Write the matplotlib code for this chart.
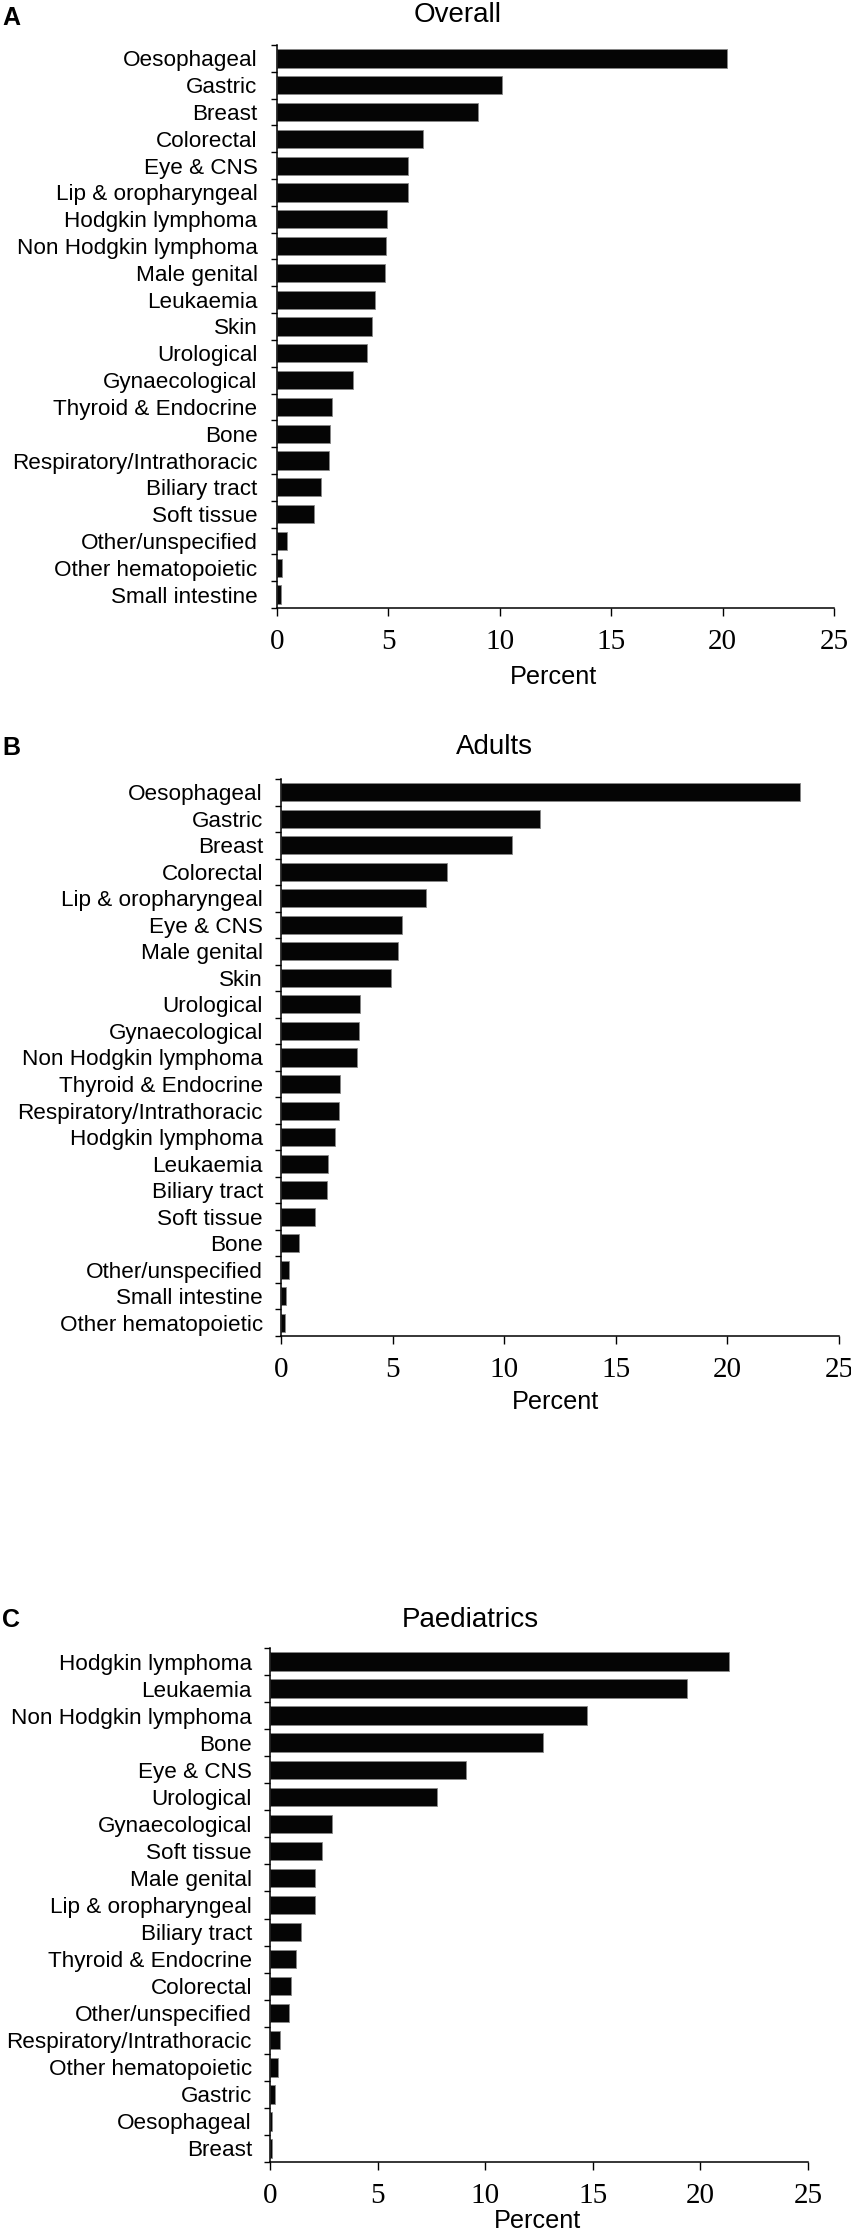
import matplotlib
matplotlib.use("Agg")
import matplotlib.pyplot as plt
import numpy as np

# Panel A - overall
overall_labels = ["Oesophageal", "Gastric", "Breast", "Colorectal", "Eye & CNS",
                  "Lip & oropharyngeal", "Hodgkin lymphoma", "Non Hodgkin lymphoma",
                  "Male genital", "Leukaemia", "Skin", "Urological", "Gynaecological",
                  "Thyroid & Endocrine", "Bone", "Respiratory/Intrathoracic",
                  "Biliary tract", "Soft tissue", "Other/unspecified",
                  "Other hematopoietic", "Small intestine"]
overall_values = [20.2, 10.1, 9.0, 6.55, 5.9, 5.9, 4.92, 4.89, 4.84, 4.38, 4.28,
                  4.06, 3.40, 2.45, 2.37, 2.32, 1.98, 1.66, 0.44, 0.24, 0.20]

# Panel B - adults
adult_labels = ["Oesophageal", "Gastric", "Breast", "Colorectal", "Lip & oropharyngeal",
                "Eye & CNS", "Male genital", "Skin", "Urological", "Gynaecological",
                "Non Hodgkin lymphoma", "Thyroid & Endocrine", "Respiratory/Intrathoracic",
                "Hodgkin lymphoma", "Leukaemia", "Biliary tract", "Soft tissue", "Bone",
                "Other/unspecified", "Small intestine", "Other hematopoietic"]
adult_values = [23.27, 11.62, 10.33, 7.42, 6.49, 5.44, 5.25, 4.93, 3.54, 3.49, 3.39,
                2.64, 2.59, 2.44, 2.12, 2.05, 1.54, 0.81, 0.37, 0.22, 0.20]

# Panel C - paediatrics
paed_labels = ["Hodgkin lymphoma", "Leukaemia", "Non Hodgkin lymphoma", "Bone",
               "Eye & CNS", "Urological", "Gynaecological", "Soft tissue",
               "Male genital", "Lip & oropharyngeal", "Biliary tract",
               "Thyroid & Endocrine", "Colorectal", "Other/unspecified",
               "Respiratory/Intrathoracic", "Other hematopoietic", "Gastric",
               "Oesophageal", "Breast"]
paed_values = [21.32, 19.4, 14.73, 12.70, 9.10, 7.78, 2.89, 2.41, 2.08, 2.08, 1.45,
               1.22, 0.96, 0.86, 0.48, 0.35, 0.25, 0.10, 0.10]

x_ticks = [0, 5, 10, 15, 20, 25]

W, H = 851, 2232
fig = plt.figure(figsize=(W / 100, H / 100), dpi=100)

sans = ["Liberation Sans", "DejaVu Sans"]
serif = ["Liberation Serif", "DejaVu Serif"]


def px_axes(left, top, right, bottom):
    return fig.add_axes([left / W, 1 - bottom / H, (right - left) / W, (bottom - top) / H])


def draw_panel(box, labels, values, letter, title, letter_y, title_x, title_y,
               label_x, label_y, ypad):
    ax = px_axes(*box)
    n = len(labels)
    y = np.arange(n)
    ax.barh(y, values, height=0.68, color="#050505", edgecolor="#888888", linewidth=0.6)
    ax.set_ylim(n - 0.5, -0.5)
    ax.set_xlim(0, 25)
    ax.set_yticks(y)
    ax.set_yticklabels(labels)
    ax.set_yticks(np.arange(n + 1) - 0.5, minor=True)
    ax.tick_params(axis="y", which="major", length=0, pad=ypad,
                   labelfontfamily="Liberation Sans", labelsize=16.2)
    ax.tick_params(axis="y", which="minor", length=4, width=1, direction="out")
    ax.set_xticks(x_ticks)
    ax.set_xticklabels([str(t) for t in x_ticks])
    ax.tick_params(axis="x", length=6, width=1, direction="out", pad=9,
                   labelfontfamily="Liberation Serif", labelsize=21)
    for s in ["top", "right"]:
        ax.spines[s].set_visible(False)
    for s in ["left", "bottom"]:
        ax.spines[s].set_linewidth(1.1)
    fig.text(2 / W, 1 - letter_y / H, letter, family=sans, fontweight="bold",
             fontsize=18, ha="left", va="center")
    fig.text(title_x / W, 1 - title_y / H, title, family=sans, fontsize=20,
             ha="center", va="center")
    fig.text(label_x / W, 1 - label_y / H, "Percent", family=sans, fontsize=18.2,
             ha="center", va="center")
    return ax


draw_panel((277, 45, 834, 608), overall_labels, overall_values, "A", "Overall",
           18, 458, 15, 553, 677, 14)
draw_panel((281, 779, 839, 1336), adult_labels, adult_values, "B", "Adults",
           748, 494, 747, 556, 1402, 13)
draw_panel((270, 1648, 808, 2162), paed_labels, paed_values, "C", "Paediatrics",
           1620, 470, 1620, 538, 2221, 13)

plt.savefig("out.png", dpi=100)
plt.close()
